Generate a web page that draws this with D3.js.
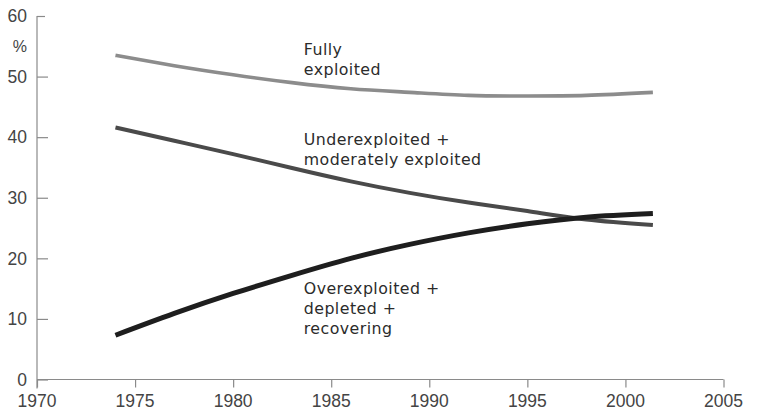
<!DOCTYPE html>
<html>
<head>
<meta charset="utf-8">
<script src="https://cdn.jsdelivr.net/npm/d3@7"></script>
<style>
  html, body { margin: 0; padding: 0; background: #fff; }
  svg { display: block; }
</style>
</head>
<body>
<svg id="chart" width="758" height="412"></svg>
<script>
// Share of assessed fish stocks by exploitation status (%)
const years = [1974, 1977, 1980, 1983, 1986, 1989, 1992, 1995, 1998, 2001.4];
const fullyExploited = [53.5, 51.8, 50.3, 49.0, 48.0, 47.4, 46.9, 46.8, 46.9, 47.4];
const underModerate = [41.6, 39.4, 37.2, 34.9, 32.7, 30.8, 29.2, 27.8, 26.4, 25.5];
const overDepleted = [7.3, 10.9, 14.2, 17.2, 20.0, 22.3, 24.2, 25.7, 26.8, 27.4];

const xTicks = [1970, 1975, 1980, 1985, 1990, 1995, 2000, 2005];
const yTicks = [0, 10, 20, 30, 40, 50, 60];

const seriesNames = ["Fully exploited", "Underexploited + moderately exploited", "Overexploited + depleted + recovering"];
const seriesValues = [fullyExploited, underModerate, overDepleted];
const seriesColors = ["#8c8c8c", "#4a4a4a", "#1e1e1e"];
const seriesWidths = [3.6, 4, 5];

const labelLines = [
  ["Fully", "exploited"],
  ["Underexploited +", "moderately exploited"],
  ["Overexploited +", "depleted +", "recovering"]
];
// anchor (year, value) of each label's first baseline
const labelPos = [[1983.6, 53.5], [1983.6, 38.7], [1983.6, 14.1]];

const svg = d3.select("#chart");
const x = d3.scaleLinear().domain([1970, 2005]).range([37, 723.5]);
const y = d3.scaleLinear().domain([0, 60]).range([379.5, 16]);

const axisColor = "#8a8a8a";
const tickFont = "'Liberation Sans', Arial, sans-serif";

// y axis: ticks pointing into the plot
const yAxis = svg.append("g").attr("transform", `translate(${x(1970)},0)`)
  .call(d3.axisRight(y).tickValues(yTicks).tickSize(11).tickFormat(""));
yAxis.select(".domain").remove();
yAxis.selectAll(".tick line").attr("stroke", axisColor).attr("stroke-width", 1.2)
  .attr("x2", d => d === 60 ? 8 : 11);
yAxis.append("line").attr("x1", 0).attr("x2", 0)
  .attr("y1", y(60)).attr("y2", y(0) + 9)
  .attr("stroke", axisColor).attr("stroke-width", 1.2);

svg.append("g").selectAll("text").data(yTicks).join("text")
  .attr("x", 27).attr("y", d => y(d)).attr("dy", "0.36em")
  .attr("text-anchor", "end")
  .attr("font-family", tickFont).attr("font-size", 17.5).attr("fill", "#444")
  .text(d => d);

svg.append("text").attr("x", 27).attr("y", 52)
  .attr("text-anchor", "end")
  .attr("font-family", tickFont).attr("font-size", 16).attr("fill", "#444")
  .text("%");

// x axis: ticks pointing down
const xAxis = svg.append("g").attr("transform", `translate(0,${y(0)})`)
  .call(d3.axisBottom(x).tickValues(xTicks).tickSize(8).tickFormat(""));
xAxis.select(".domain").attr("stroke", axisColor).attr("stroke-width", 1.2)
  .attr("d", `M${x(1970)},0H${x(2005)}`);
xAxis.selectAll(".tick line").attr("stroke", axisColor).attr("stroke-width", 1.2);

svg.append("g").selectAll("text").data(xTicks).join("text")
  .attr("x", d => x(d)).attr("y", 407)
  .attr("text-anchor", "middle")
  .attr("font-family", tickFont).attr("font-size", 17.5).attr("fill", "#444")
  .text(d => d);

// trend lines
const line = d3.line()
  .x((d, i) => x(years[i]))
  .y(d => y(d))
  .curve(d3.curveNatural);

svg.append("g").selectAll("path").data(seriesValues).join("path")
  .attr("d", d => line(d))
  .attr("fill", "none")
  .attr("stroke", (d, i) => seriesColors[i])
  .attr("stroke-width", (d, i) => seriesWidths[i])
  .attr("stroke-linecap", "butt")
  .attr("aria-label", (d, i) => seriesNames[i]);

// series labels
const labels = svg.append("g")
  .attr("font-family", "'DejaVu Sans', Verdana, sans-serif")
  .attr("font-size", 15.8).attr("letter-spacing", 0.45).attr("fill", "#2b2b2b");
labelLines.forEach((lines, i) => {
  const t = labels.append("text")
    .attr("x", x(labelPos[i][0])).attr("y", y(labelPos[i][1]));
  lines.forEach((s, j) => {
    t.append("tspan").attr("x", x(labelPos[i][0]))
      .attr("dy", j === 0 ? 0 : 20).text(s);
  });
});
</script>
</body>
</html>
